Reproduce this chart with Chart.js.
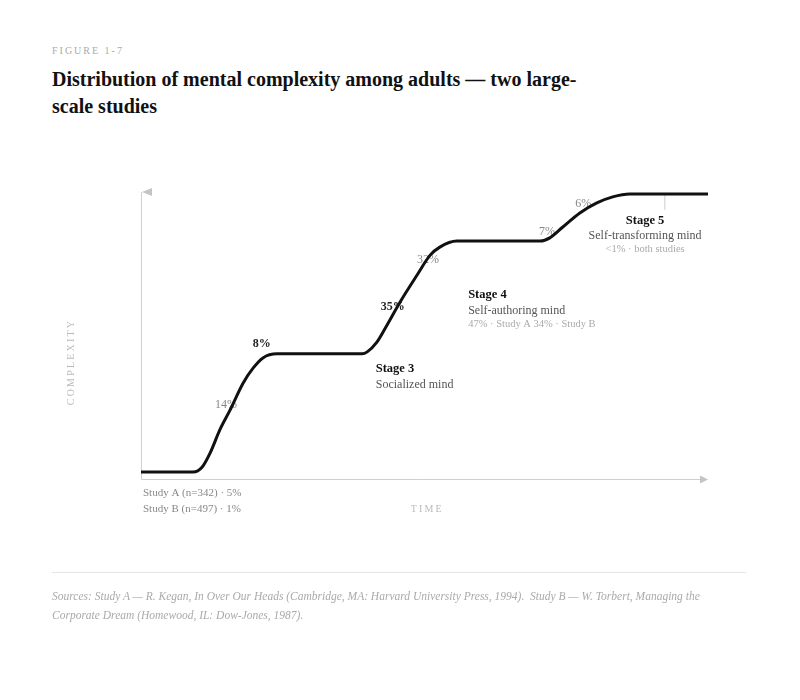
<!DOCTYPE html>
<html>
<head>
<meta charset="utf-8">
<script src="https://cdn.jsdelivr.net/npm/chart.js@4.4.1/dist/chart.umd.min.js"></script>
<style>
  body { margin: 0; background: #fff; font-family: "Liberation Serif", serif; }
  #wrap { position: relative; width: 800px; height: 700px; overflow: hidden; }
  #fig { position: absolute; left: 52px; top: 45px; font-size: 10px; letter-spacing: 2px; color: #aaa; }
  #title { position: absolute; left: 52px; top: 66px; width: 545px; font-size: 20px; font-weight: bold; line-height: 27px; color: #111; }
  #rule { position: absolute; left: 52px; top: 572px; width: 694px; border-top: 1px solid #e6e6e6; }
  #src { position: absolute; left: 52px; top: 587px; width: 694px; font-size: 11.5px; font-style: italic; line-height: 19px; color: #aaa; }
  canvas { position: absolute; left: 0; top: 0; }
</style>
</head>
<body>
<div id="wrap">
  <div id="fig">FIGURE 1-7</div>
  <div id="title">Distribution of mental complexity among adults — two large-scale studies</div>
  <canvas id="curve" width="800" height="700"></canvas>
  <div id="rule"></div>
  <div id="src">Sources: Study A — R. Kegan, In Over Our Heads (Cambridge, MA: Harvard University Press, 1994).&nbsp; Study B — W. Torbert, Managing the Corporate Dream (Homewood, IL: Dow-Jones, 1987).</div>
</div>
<script>
// curve (time 0-100, complexity 0-100)
var timeX = [0, 9.2, 10.8, 12.2, 13.9, 15.7, 18.0, 19.8, 21.5, 24.0,
  39.0, 39.9, 41.6, 43.4, 45.7, 48.7, 51.0, 52.7, 55.7,
  70.4, 72.1, 74.4, 77.4, 80.4, 83.2, 86.2, 100];
var complexity = [2.4, 2.4, 4.2, 9.1, 17.1, 24.0, 33.4, 38.7, 42.2, 43.6,
  43.6, 44.3, 47.7, 53.7, 61.7, 71.1, 78.0, 80.8, 82.9,
  82.9, 84.0, 87.8, 92.7, 96.2, 98.3, 99.3, 99.3];

// transition shares along the curve
var pctLabels = ["14%", "8%", "35%", "32%", "7%", "6%"];
var pctStrong = [false, true, true, false, false, false];

var stageNames = ["Stage 3", "Stage 4", "Stage 5"];
var stageMinds = ["Socialized mind", "Self-authoring mind", "Self-transforming mind"];
var stageNotes = ["", "47% · Study A 34% · Study B", "<1% · both studies"];

var studyNotes = ["Study A (n=342) · 5%", "Study B (n=497) · 1%"];

// where the labels sit, in data units
var pctAt = [[15.0, 25.8], [21.3, 47.0], [44.4, 59.9], [50.6, 76.3], [71.6, 86.1], [78.0, 95.8]];
var stageAt = [[41.4, 38.3, "left"], [57.7, 64.1, "left"], [88.9, 90.0, "center"]];

var points = timeX.map(function (t, i) { return { x: t, y: complexity[i] }; });

function spaced(ctx, text, x, y, gap) {
  var w = 0;
  for (var i = 0; i < text.length; i++) w += ctx.measureText(text[i]).width + (i ? gap : 0);
  var cx = x - w / 2;
  for (var j = 0; j < text.length; j++) {
    ctx.fillText(text[j], cx, y);
    cx += ctx.measureText(text[j]).width + gap;
  }
}

var decor = {
  id: "decor",
  beforeDatasetsDraw: function (chart) {
    var ctx = chart.ctx;
    var a = chart.chartArea;
    var sx = chart.scales.x, sy = chart.scales.y;
    ctx.save();
    // axes
    ctx.strokeStyle = "#cfcfcf";
    ctx.lineWidth = 1;
    ctx.beginPath();
    ctx.moveTo(a.left + 0.5, a.top);
    ctx.lineTo(a.left + 0.5, a.bottom + 0.5);
    ctx.lineTo(a.right - 4, a.bottom + 0.5);
    ctx.stroke();
    ctx.fillStyle = "#c4c4c4";
    ctx.beginPath();
    ctx.moveTo(a.left + 1, a.top);
    ctx.lineTo(a.left + 11, a.top - 4);
    ctx.lineTo(a.left + 11, a.top + 4);
    ctx.closePath();
    ctx.fill();
    ctx.beginPath();
    ctx.moveTo(a.right, a.bottom + 0.5);
    ctx.lineTo(a.right - 8, a.bottom - 3.5);
    ctx.lineTo(a.right - 8, a.bottom + 4.5);
    ctx.closePath();
    ctx.fill();

    // stage 5 leader
    ctx.strokeStyle = "#cccccc";
    ctx.beginPath();
    ctx.moveTo(sx.getPixelForValue(92.3) + 0.5, sy.getPixelForValue(99.3));
    ctx.lineTo(sx.getPixelForValue(92.3) + 0.5, sy.getPixelForValue(93.8));
    ctx.stroke();

    // percentages
    ctx.textBaseline = "middle";
    ctx.textAlign = "center";
    pctLabels.forEach(function (t, i) {
      ctx.font = (pctStrong[i] ? "bold " : "") + "12px 'Liberation Serif'";
      ctx.fillStyle = pctStrong[i] ? "#222" : "#888";
      ctx.fillText(t, sx.getPixelForValue(pctAt[i][0]), sy.getPixelForValue(pctAt[i][1]));
    });

    // stages
    stageNames.forEach(function (t, i) {
      var x = sx.getPixelForValue(stageAt[i][0]);
      var y = sy.getPixelForValue(stageAt[i][1]);
      ctx.textAlign = stageAt[i][2];
      ctx.font = "bold 12.5px 'Liberation Serif'";
      ctx.fillStyle = "#111";
      ctx.fillText(t, x, y);
      ctx.font = "12px 'Liberation Serif'";
      ctx.fillStyle = "#555";
      ctx.fillText(stageMinds[i], x, y + 15.5);
      if (stageNotes[i]) {
        ctx.font = "10.5px 'Liberation Serif'";
        ctx.fillStyle = "#aaa";
        ctx.fillText(stageNotes[i], x, y + 29);
      }
    });

    // study baselines
    ctx.textAlign = "left";
    ctx.font = "11px 'Liberation Serif'";
    ctx.fillStyle = "#888";
    studyNotes.forEach(function (t, i) {
      ctx.fillText(t, a.left + 2, a.bottom + 14 + i * 16);
    });

    // axis titles
    ctx.font = "10px 'Liberation Serif'";
    ctx.fillStyle = "#bbb";
    spaced(ctx, "TIME", sx.getPixelForValue(50.3), a.bottom + 30, 2.2);
    ctx.translate(71, sy.getPixelForValue(40.4));
    ctx.rotate(-Math.PI / 2);
    spaced(ctx, "COMPLEXITY", 0, 0, 2.2);
    ctx.restore();
  }
};

var ctx = document.getElementById("curve").getContext("2d");
var myChart = new Chart(ctx, {
  type: "line",
  data: {
    datasets: [
      {
        label: "complexity",
        data: points,
        borderColor: "#111",
        borderWidth: 3,
        borderCapStyle: "round",
        borderJoinStyle: "round",
        cubicInterpolationMode: "monotone",
        pointRadius: 0,
        fill: false,
      },
    ],
  },
  options: {
    responsive: false,
    animation: false,
    layout: { padding: { left: 141, right: 92, top: 192, bottom: 221 } },
    plugins: { legend: { display: false }, tooltip: { enabled: false } },
    scales: {
      x: { type: "linear", min: 0, max: 100, display: false },
      y: { min: 0, max: 100, display: false },
    },
  },
  plugins: [decor],
});
</script>
</body>
</html>
